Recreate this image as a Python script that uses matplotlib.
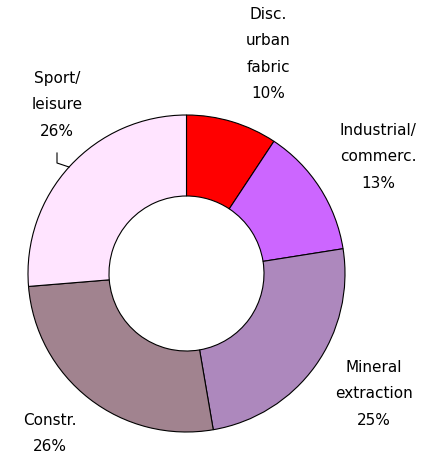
import matplotlib.pyplot as plt

# wedge sizes as drawn (%), labels as printed
categories = ['Disc.\nurban\nfabric', 'Industrial/\ncommerc.', 'Mineral\nextraction',
              'Constr.', 'Sport/\nleisure']
shares = [9.3, 13.2, 24.8, 26.4, 26.3]
label_pct = [10, 13, 25, 26, 26]
colors = ['#FF0000', '#CC66FF', '#AD88BD', '#A1838F', '#FFE4FF']

W, H = 433, 460
fig = plt.figure(figsize=(W / 100, H / 100), dpi=100)
ax = fig.add_axes([0, 0, 1, 1])

cx, cy, r = 186.5, H - 274.5, 158.5
ax.pie(shares, colors=colors, startangle=90, counterclock=False,
       center=(cx, cy), radius=r, frame=True,
       wedgeprops=dict(width=r - 77.5, edgecolor='black', linewidth=0.8))

# label positions in pixel coords (x centre, y of first line from top)
label_pos = [(268, 7), (378, 123), (374, 360), (50, 413), (57, 71)]
for name, pct, (x, y) in zip(categories, label_pct, label_pos):
    ax.text(x, H - y, f'{name}\n{pct}%', ha='center', va='top',
            fontsize=11, family='DejaVu Sans', linespacing=1.95,
            color='black')

# leader line for Sport/leisure
ax.plot([57, 57, 69], [H - 154, H - 164, H - 168], color='black', lw=0.8)

ax.set_xlim(0, W)
ax.set_ylim(0, H)
ax.set_aspect('equal')
ax.axis('off')

fig.savefig('out.png', dpi=100)
